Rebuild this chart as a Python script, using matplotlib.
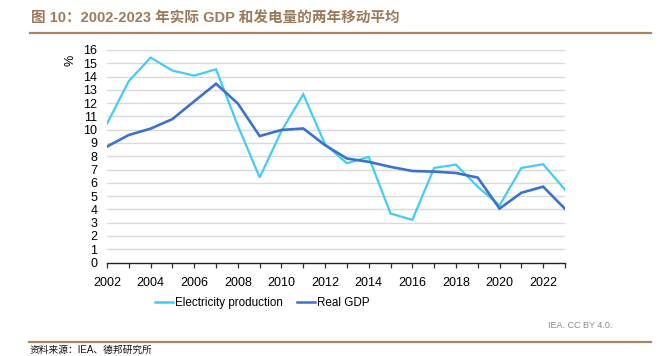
import matplotlib
matplotlib.use("Agg")
import matplotlib.pyplot as plt
from matplotlib.lines import Line2D

plt.rcParams['font.family'] = ['Liberation Sans', 'Noto Sans CJK SC', 'DejaVu Sans']

years = list(range(2002, 2024))
electricity = [10.45, 13.66, 15.43, 14.45, 14.07, 14.55, 10.3, 6.4, 9.9, 12.67,
               8.9, 7.47, 7.95, 3.69, 3.21, 7.12, 7.37, 5.7, 4.3, 7.12, 7.4, 5.48]
real_gdp = [8.73, 9.6, 10.08, 10.8, 12.14, 13.46, 11.97, 9.52, 9.98, 10.09,
            8.83, 7.83, 7.58, 7.2, 6.89, 6.84, 6.74, 6.39, 4.06, 5.25, 5.71, 4.04]
yticks = list(range(0, 17))
xlabels = list(range(2002, 2023, 2))

title = "图 10：2002-2023 年实际 GDP 和发电量的两年移动平均"
source = "资料来源：IEA、德邦研究所"
credit = "IEA. CC BY 4.0."
series_names = ["Electricity production", "Real GDP"]

W, H = 660, 356
fig = plt.figure(figsize=(W / 100, H / 100), dpi=100)

def fx(px):
    return px / W

def fy(py):
    return 1 - py / H

ax = fig.add_axes([fx(107), fy(262.5), fx(565) - fx(107), fy(50) - fy(262.5)])
c_elec = "#45CCF6"
c_gdp = "#3B72CD"
ax.plot(years, electricity, color=c_elec, lw=1.6, solid_joinstyle='miter', zorder=3)
ax.plot(years, real_gdp, color=c_gdp, lw=1.9, solid_joinstyle='miter', zorder=4)

ax.set_xlim(2002, 2023)
ax.set_ylim(0, 16)
ax.set_yticks(yticks)
ax.set_yticklabels([str(v) for v in yticks], fontsize=9)
ax.tick_params(axis='y', length=0, pad=7)
for v in yticks[1:]:
    ax.axhline(v, color="#dadada", lw=1.0, zorder=1)

ax.set_xticks(years, minor=True)
ax.set_xticks(xlabels)
ax.set_xticklabels([str(v) for v in xlabels], fontsize=9)
ax.tick_params(axis='x', which='both', direction='out', length=3.5, width=0.9,
               color="#333333", pad=7)
ax.tick_params(axis='x', which='minor', length=3.5)

for s in ['left', 'right', 'top']:
    ax.spines[s].set_visible(False)
ax.spines['bottom'].set_color("#222222")
ax.spines['bottom'].set_linewidth(1.0)
ax.spines['bottom'].set_zorder(5)

fig.text(fx(71), fy(60), "%", rotation=90, fontsize=9, ha='center', va='center')

handles = [Line2D([], [], color=c_elec, lw=1.8), Line2D([], [], color=c_gdp, lw=1.8)]
fig.legend(handles, series_names, loc='center', bbox_to_anchor=(fx(262), fy(303)),
           ncol=2, frameon=False, fontsize=8.4, handlelength=1.6, handletextpad=0.12,
           columnspacing=1.2)

brown = "#A88565"
fig.text(fx(31), fy(18.5), title, fontsize=10.5, fontweight='bold', color="#9C7B5B",
         ha='left', va='center')
fig.add_artist(Line2D([fx(30), fx(651)], [fy(32.7), fy(32.7)], color=brown, lw=1.6))
fig.add_artist(Line2D([fx(29), fx(651)], [fy(342), fy(342)], color=brown, lw=1.6))
fig.text(fx(30), fy(350), source, fontsize=7, ha='left', va='center', color="#111111")
fig.text(fx(612), fy(325), credit, fontsize=6.5, ha='right', va='center', color="#8a8a8a")

fig.savefig("out.png", dpi=100)
